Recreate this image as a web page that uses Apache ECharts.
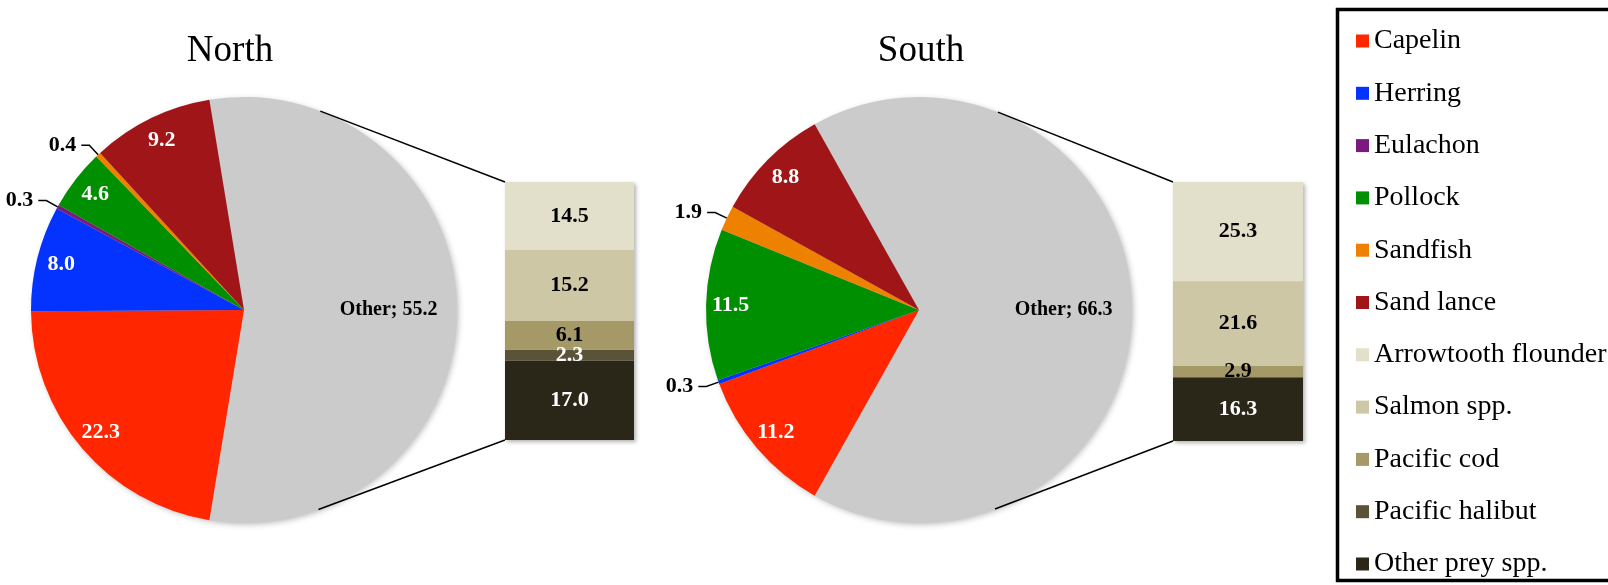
<!DOCTYPE html>
<html><head><meta charset="utf-8">
<script src="https://cdn.jsdelivr.net/npm/echarts@6/dist/echarts.min.js"></script>
<style>html,body{margin:0;padding:0;background:#fff}#c{width:1608px;height:585px}</style>
</head><body><div id="c"></div>
<script>
// ---- data ----
const pieCategories = ['Capelin', 'Herring', 'Eulachon', 'Pollock', 'Sandfish', 'Sand lance', 'Other'];
const northPie = [22.3, 8.0, 0.3, 4.6, 0.4, 9.2, 55.2];
const southPie = [11.2, 0.3, 0, 11.5, 1.9, 8.8, 66.3];
const barCategories = ['Arrowtooth flounder', 'Salmon spp.', 'Pacific cod', 'Pacific halibut', 'Other prey spp.'];
const northBar = [14.5, 15.2, 6.1, 2.3, 17.0];
const southBar = [25.3, 21.6, 2.9, 0, 16.3];
const panelTitles = ['North', 'South'];

// ---- styles ----
const FONT = "'Liberation Serif', 'Times New Roman', serif";
const pieColors = ['#FF2600', '#0433FF', '#7B1A7E', '#008F00', '#EE8200', '#A01518', '#CBCBCB'];
const barColors = ['#E2DFCB', '#CEC7A6', '#A59968', '#5B5338', '#2A2618'];
const barLabelColors = ['#000', '#000', '#000', '#fff', '#fff'];
const LABEL_SIZE = 22;

const panels = [
  { pie: northPie, bar: northBar, cx: 244, cy: 310, r: 213, grid: { left: 505, top: 182, width: 129, height: 258 }, titleX: 230 },
  { pie: southPie, bar: southBar, cx: 919, cy: 310, r: 213, grid: { left: 1173, top: 182, width: 130, height: 259 }, titleX: 921 }
];

const sum = a => a.reduce((s, v) => s + v, 0);
const otherIdx = pieCategories.indexOf('Other');
const order = [otherIdx].concat(pieCategories.map((_, i) => i).filter(i => i !== otherIdx));

const series = [];
const graphics = [];
const titles = [];
const grids = [], xAxes = [], yAxes = [];

panels.forEach((p, pi) => {
  const data = order.filter(i => p.pie[i] > 0).map(i => {
    const small = p.pie[i] < 2;
    const item = { name: pieCategories[i], value: p.pie[i], itemStyle: { color: pieColors[i] } };
    if (small) {
      item.label = { position: 'outside', color: '#000', padding: [0, 0, 12, 0] };
      item.labelLine = { show: true };
    } else if (pieCategories[i] === 'Other') {
      item.label = { color: '#000', fontSize: 20 };
    }
    return item;
  });
  const startAngle = p.pie[otherIdx] / 100 * 360 / 2;
  series.push({
    type: 'pie', center: [p.cx, p.cy], radius: p.r, startAngle, clockwise: true,
    silent: true, animation: false, avoidLabelOverlap: false,
    data,
    itemStyle: { borderWidth: 0 },
    label: {
      show: true, position: 'inside', color: '#fff', fontFamily: FONT, fontWeight: 'bold', fontSize: LABEL_SIZE,
      formatter: d => (d.name === 'Other' ? 'Other; ' : '') + d.value.toFixed(1)
    },
    labelLine: { show: false, length: 13, length2: 8, lineStyle: { color: '#000', width: 1.5 } },
    labelLayout: params => {
      const it = data[params.dataIndex];
      if (!it || it.value < 2) return;
      const k = it.name === 'Other' ? 0.66 : 0.86;
      const lr = params.labelRect;
      const lx = lr.x + lr.width / 2, ly = lr.y + lr.height / 2;
      return { dx: (lx - p.cx) * (2 * k - 1), dy: (ly - p.cy) * (2 * k - 1) };
    },
    z: 2
  });

  // bar panel
  grids.push(Object.assign({ containLabel: false }, p.grid));
  xAxes.push({ gridIndex: pi, type: 'category', data: [panelTitles[pi]], show: false });
  yAxes.push({ gridIndex: pi, type: 'value', min: 0, max: sum(p.bar), show: false });
  for (let i = barCategories.length - 1; i >= 0; i--) {
    series.push({
      type: 'bar', name: barCategories[i], xAxisIndex: pi, yAxisIndex: pi, stack: 's' + pi,
      barWidth: '100%', silent: true, animation: false,
      data: [p.bar[i]],
      itemStyle: { color: barColors[i] },
      label: {
        show: true, position: 'inside', color: barLabelColors[i], fontFamily: FONT, fontWeight: 'bold', fontSize: LABEL_SIZE,
        formatter: d => d.value > 0 ? d.value.toFixed(1) : ''
      },
      z: 2
    });
  }

  titles.push({
    text: panelTitles[pi], left: p.titleX, top: 33, textAlign: 'center', padding: 0,
    textStyle: { fontFamily: FONT, fontSize: 37, fontWeight: 'normal', color: '#000' }
  });

  // shadows
  graphics.push({ type: 'circle', shape: { cx: p.cx, cy: p.cy, r: p.r - 1 }, z: 0,
    style: { fill: '#ccc', shadowBlur: 6, shadowOffsetX: 2, shadowOffsetY: 2, shadowColor: 'rgba(0,0,0,0.3)' } });
  const g = p.grid;
  graphics.push({ type: 'rect', shape: { x: g.left, y: g.top, width: g.width, height: g.height }, z: 0,
    style: { fill: '#ccc', shadowBlur: 4, shadowOffsetX: 2, shadowOffsetY: 2, shadowColor: 'rgba(0,0,0,0.3)' } });

  // connector tangent lines from bar corners to the pie
  [[g.left, g.top, 1], [g.left, g.top + g.height, -1]].forEach(([bx, by, s]) => {
    const vx = bx - p.cx, vy = p.cy - by;
    const d = Math.hypot(vx, vy);
    const phi = Math.atan2(vy, vx);
    const th = phi + s * Math.acos(p.r / d);
    graphics.push({ type: 'line', z: 100,
      shape: { x1: p.cx + p.r * Math.cos(th), y1: p.cy - p.r * Math.sin(th), x2: bx, y2: by },
      style: { stroke: '#000', lineWidth: 1.5 } });
  });
});

// legend frame
graphics.push({ type: 'rect', z: 100, shape: { x: 1337.5, y: 9.5, width: 300, height: 571 },
  style: { fill: 'none', stroke: '#000', lineWidth: 3.5 } });

const chart = echarts.init(document.getElementById('c'), null, { renderer: 'canvas' });
chart.setOption({
  backgroundColor: '#fff',
  animation: false,
  title: titles,
  legend: {
    orient: 'vertical', left: 1356, top: 27, padding: 0,
    itemWidth: 13, itemHeight: 13, itemGap: 24.3, icon: 'rect', selectedMode: false,
    textStyle: { fontFamily: FONT, fontSize: 28, color: '#000', lineHeight: 28 },
    data: pieCategories.filter(n => n !== 'Other').concat(barCategories)
  },
  grid: grids, xAxis: xAxes, yAxis: yAxes,
  graphic: graphics,
  series
});
</script>
</body></html>
